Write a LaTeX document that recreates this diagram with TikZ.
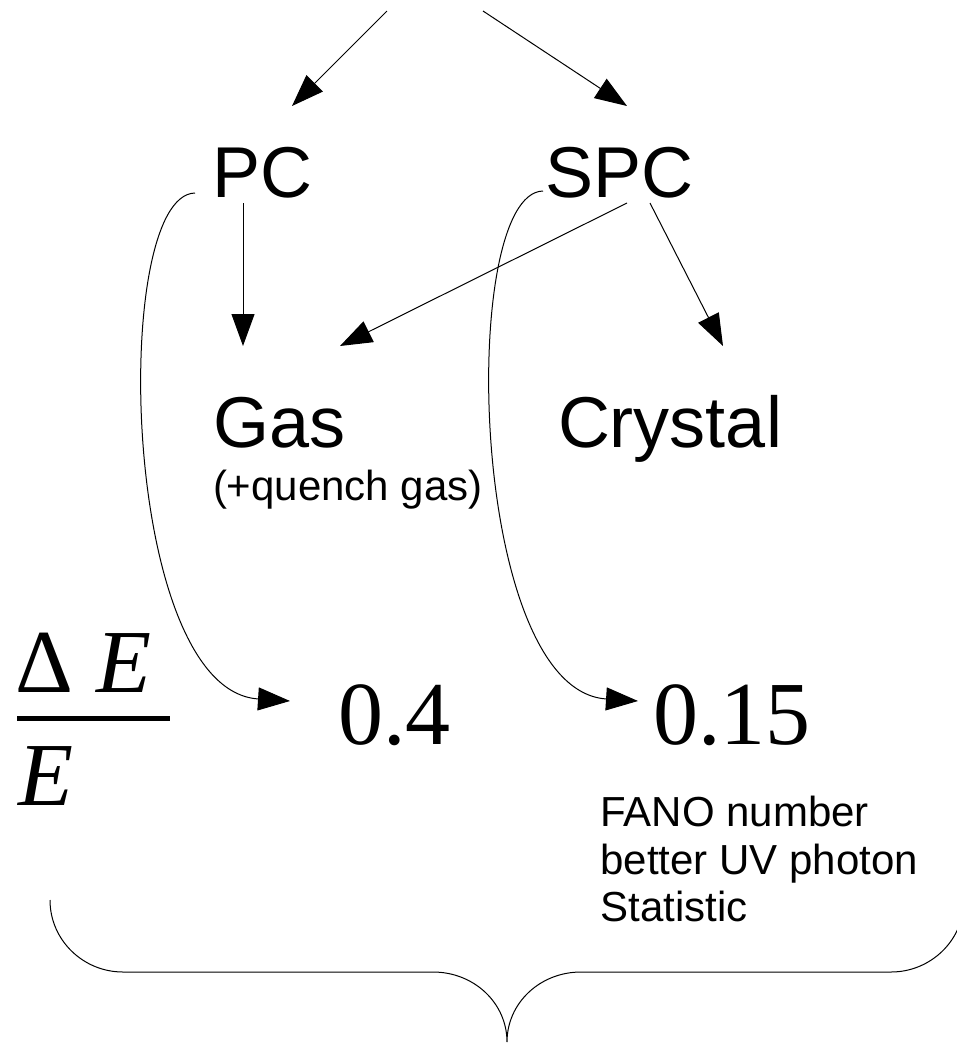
\documentclass[tikz,border=0pt]{standalone}
\usepackage{fontspec}
\setmainfont{Liberation Sans}
\newfontfamily\tnr{Liberation Serif}
\usetikzlibrary{arrows.meta,calc}
\tikzset{
  lbl/.style={inner sep=0pt, outer sep=0pt, anchor=base west, font=\fontsize{72}{86}\selectfont},
  small/.style={inner sep=0pt, outer sep=0pt, anchor=base west, font=\fontsize{42}{47.5}\selectfont},
  num/.style={inner sep=0pt, outer sep=0pt, anchor=base west, font=\tnr\fontsize{90}{100}\selectfont},
  frac/.style={inner sep=0pt, outer sep=0pt, anchor=base west, font=\tnr\fontsize{90}{100}\selectfont},
  conn/.style={line width=1pt, -{Triangle[length=32pt,width=23pt]}},
  thinline/.style={line width=1pt},
}
\begin{document}
\begin{tikzpicture}[x=1pt,y=-1pt]
\useasboundingbox (0,0) rectangle (957,1045);

% nodes
\node[lbl] (pc) at (212,197) {PC};
\node[lbl] (spc) at (545,197) {SPC};
\node[lbl] (gas) at (213.5,447) {Gas};
\node[small] (quench) at (213,500) {(+quench gas)};
\node[lbl] (crystal) at (558,447) {Crystal};
\node[frac] (dnum) at (16,692) {Δ \textit{E}};
\node[frac] (dden) at (18,805) {\textit{E}};
\node[num] (v04) at (338,744) {0.4};
\node[num] (v015) at (653,744) {0.15};
\node[inner sep=0pt, outer sep=0pt, anchor=north west, align=left,
      font=\fontsize{42}{47.5}\selectfont] (fano) at (600.5,796.5)
      {FANO number\\better UV photon\\Statistic};

% fraction bar
\fill (17,716) rectangle (170,721);

% free ends at the top
\coordinate (top1) at (387,11);
\coordinate (top2) at (483,11);

% straight connectors
\draw[conn] (top1) -- ([shift={(80,-91)}]pc.base west);
\draw[conn] (top2) -- ([shift={(82,-91)}]spc.base west);
\draw[conn] ([shift={(31,6)}]pc.base west) -- ([shift={(29.5,-101)}]gas.base west);
\draw[conn] ([shift={(82,6)}]spc.base west) -- ([shift={(126.5,-101)}]gas.base west);
\draw[conn] ([shift={(105,6)}]spc.base west) -- ([shift={(165,-101)}]crystal.base west);

% curved connectors
\draw[conn] ([shift={(-17,-4)}]pc.base west) .. controls +(-85,2) and +(-170,-11) .. ([shift={(-48,-43)}]v04.base west);
\draw[conn] ([shift={(-2,-6)}]spc.base west) .. controls +(-85,2) and +(-170,-11) .. ([shift={(-15,-43)}]v015.base west);

% brace
\draw[thinline] (50,900) .. controls (50,940) and (83,972) .. (123,972) -- (433,972)
  .. controls (474,972) and (507,1003) .. (507,1042)
  .. controls (507,1003) and (540,972) .. (581,972) -- (891,972)
  .. controls (931,972) and (964,940) .. (964,900);
\end{tikzpicture}
\end{document}
